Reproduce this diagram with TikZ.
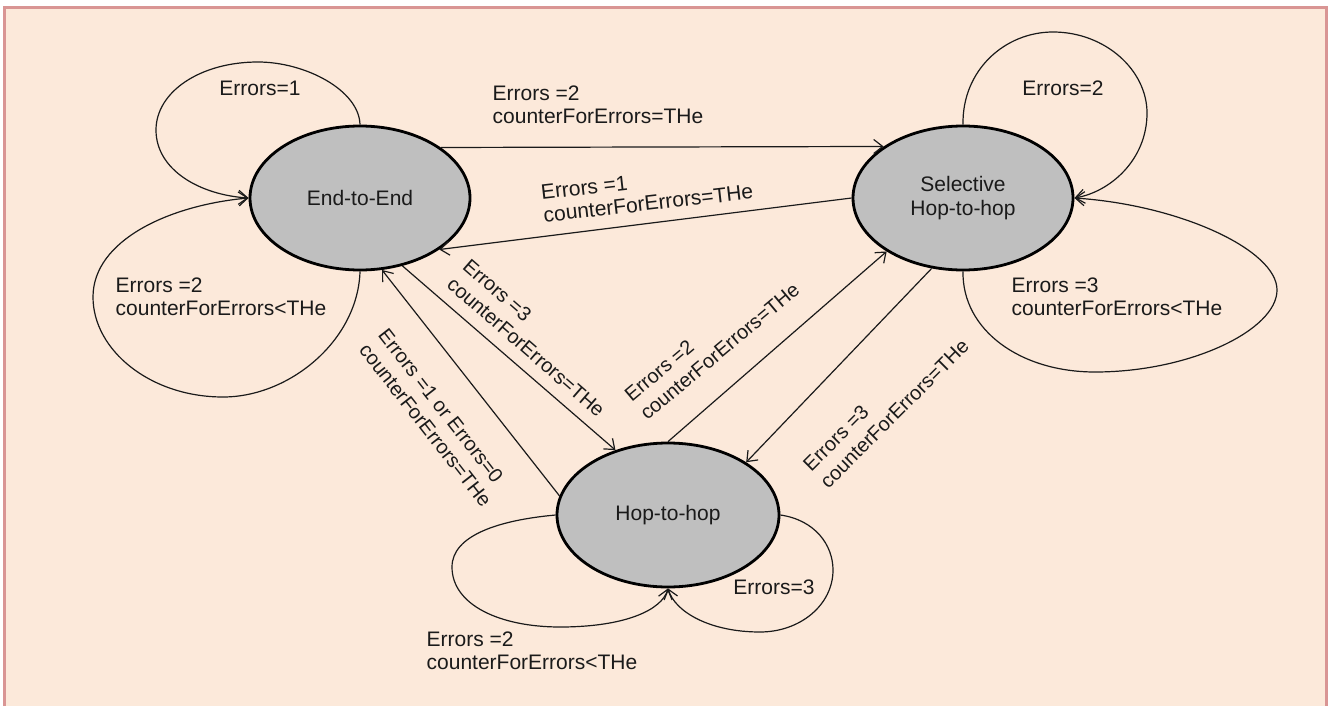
\documentclass[tikz,border=0pt]{standalone}
\usepackage{fontspec}
\setmainfont{Liberation Sans}
\usetikzlibrary{shapes.geometric,arrows.meta}
\definecolor{peach}{HTML}{FCE9DA}
\definecolor{framepink}{HTML}{D99594}
\definecolor{stategray}{HTML}{BFBFBF}
\definecolor{ink}{HTML}{1A1A1A}
\tikzset{
  state/.style={ellipse, draw=black, line width=2.8pt, fill=stategray,
    minimum width=220pt, minimum height=144pt, inner sep=0pt, align=center,
    text=ink, font=\fontsize{21}{24}\selectfont},
  lab/.style={align=left, inner sep=0pt, text=ink, font=\fontsize{21}{23}\selectfont},
  rlab/.style={align=left, inner sep=0pt, text=ink, font=\fontsize{20}{24}\selectfont},
  conn/.style={draw=ink, line width=1.2pt, -{Straight Barb[length=9pt,width=14pt,line width=1.2pt]}},
}
\begin{document}
\begin{tikzpicture}[x=1pt,y=-1pt]
\useasboundingbox (0,0) rectangle (1329,706);
\fill[peach] (4,7) rectangle (1327,706);
\draw[framepink, line width=3pt] (4.5,706) -- (4.5,7.5) -- (1326.5,7.5) -- (1326.5,706);

\node[state] (e2e) at (360,198) {End-to-End};
\node[state] (sel) at (963,198) {Selective\\Hop-to-hop};
\node[state, minimum width=222pt] (hop) at (668,515) {Hop-to-hop};

% straight transitions
\draw[conn] (e2e.32.5) -- (sel.147.5);
\draw[conn] (sel.west) -- (e2e.-33);
\draw[conn] (e2e.-58) -- (hop.129.5);
\draw[conn] (hop.170) -- (e2e.-73);
\draw[conn] (hop.north) -- (sel.215);
\draw[conn] (sel.-114) -- (hop.34.5);

% self loops
\draw[conn] (e2e.north) .. controls (359,90) and (305,62) .. (258,62)
  .. controls (200,62) and (156,92) .. (156,130)
  .. controls (156,170) and (200,195) .. (e2e.west);
\draw[conn] (e2e.south) .. controls (358,340) and (290,397) .. (223,397)
  .. controls (150,397) and (93,350) .. (93,297)
  .. controls (93,240) and (170,205) .. (e2e.west);
\draw[conn] (sel.north) .. controls (962,70) and (1005,32) .. (1053,32)
  .. controls (1105,32) and (1147,70) .. (1147,113)
  .. controls (1147,160) and (1110,192) .. (sel.east);
\draw[conn] (sel.south) .. controls (962,330) and (1020,372) .. (1095,372)
  .. controls (1190,372) and (1277,330) .. (1277,290)
  .. controls (1277,250) and (1180,205) .. (sel.east);
\draw[conn] (hop.west) .. controls (500,520) and (452,535) .. (452,567)
  .. controls (452,605) and (500,627) .. (560,627)
  .. controls (625,627) and (662,610) .. (hop.south);
\draw[conn] (hop.east) .. controls (815,520) and (833,545) .. (833,570)
  .. controls (833,605) and (800,632) .. (760,632)
  .. controls (710,632) and (675,612) .. (hop.south);

% labels
\node[lab] (l1) at (598,105) {Errors =2\\counterForErrors=THe};
\node[lab, rotate=6.5] (l2) at (647,192) {Errors =1\\counterForErrors=THe};
\node[rlab, rotate=-41] (l3) at (534,338) {Errors =3\\counterForErrors=THe};
\node[rlab, rotate=-52] (l4) at (435,418) {Errors =1 or Errors=0\\counterForErrors=THe};
\node[rlab, rotate=40] (l5) at (712,342) {Errors =2\\counterForErrors=THe};
\node[rlab, rotate=45] (l6) at (886,405) {Errors =3\\counterForErrors=THe};
\node[lab] (s1) at (260,88) {Errors=1};
\node[lab] (s2) at (221,297) {Errors =2\\counterForErrors<THe};
\node[lab] (s3) at (1063,88) {Errors=2};
\node[lab] (s4) at (1117,297) {Errors =3\\counterForErrors<THe};
\node[lab] (s5) at (774,587) {Errors=3};
\node[lab] (s6) at (532,651) {Errors =2\\counterForErrors<THe};
\end{tikzpicture}
\end{document}
